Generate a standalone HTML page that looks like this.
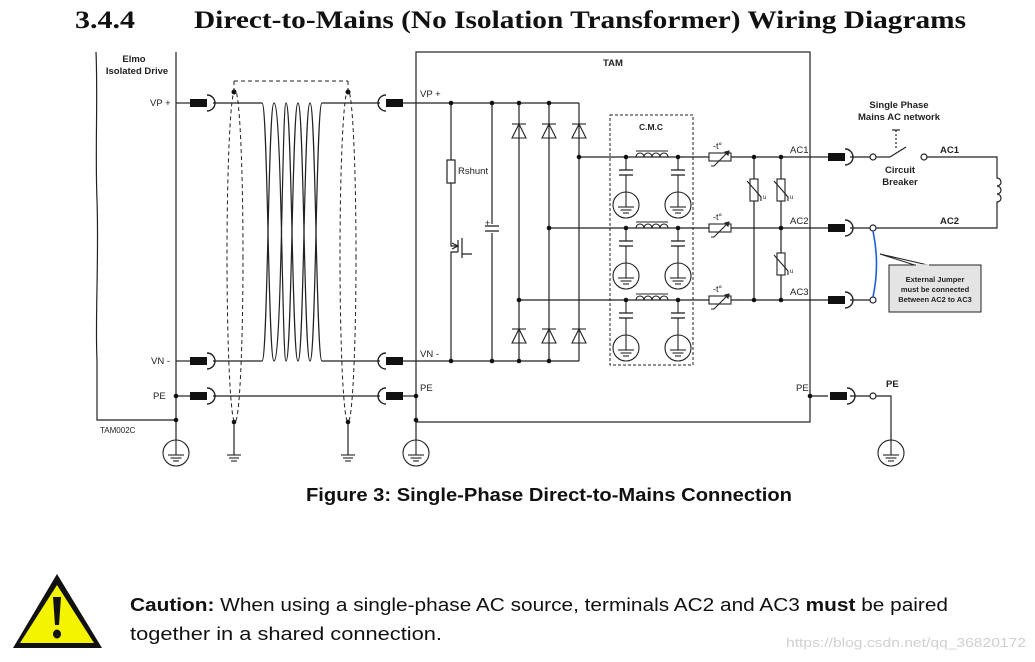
<!DOCTYPE html>
<html><head><meta charset="utf-8"><style>
html,body{margin:0;padding:0;background:#fff;}
svg{display:block;}
</style></head><body>
<svg width="1035" height="662" viewBox="0 0 1035 662" xmlns="http://www.w3.org/2000/svg" font-family="Liberation Sans, Arial, sans-serif">
<defs>
<g id="cR"><rect x="0" y="-4" width="17" height="8" fill="#111"/><path d="M17,-8 A8,8 0 0 1 17,8" fill="none" stroke="#222" stroke-width="1.4"/></g>
<g id="cL"><rect x="-17" y="-4" width="17" height="8" fill="#111"/><path d="M-17,-8 A8,8 0 0 0 -17,8" fill="none" stroke="#222" stroke-width="1.4"/></g>
<g id="eg" fill="none" stroke="#222" stroke-width="1.1"><circle cx="0" cy="0" r="13"/><line x1="0" y1="-13" x2="0" y2="2"/><line x1="-8" y1="2" x2="8" y2="2"/><line x1="-5.5" y1="5" x2="5.5" y2="5"/><line x1="-3" y1="8" x2="3" y2="8"/></g>
<g id="gnd" fill="none" stroke="#222" stroke-width="1.1"><line x1="-7" y1="0" x2="7" y2="0"/><line x1="-5" y1="3" x2="5" y2="3"/><line x1="-3" y1="6" x2="3" y2="6"/></g>
<g id="dU" fill="none" stroke="#222" stroke-width="1.1"><path d="M-7,8 L7,8 L0,-6 Z"/><line x1="-7" y1="-6" x2="7" y2="-6"/></g>
<g id="cap" stroke="#222" stroke-width="1.3"><line x1="-7" y1="0" x2="7" y2="0"/><line x1="-7" y1="5" x2="7" y2="5"/></g>
<g id="therm" fill="none" stroke="#222" stroke-width="1.1"><rect x="0" y="-4" width="22" height="8" fill="#fff"/><path d="M2,9 L5,9 L20,-6"/><path d="M20,-6 l-4,1 l3,3 z" fill="#222"/><text x="4" y="-8" font-size="9" fill="#222" stroke="none">-t°</text></g>
<g id="var" fill="none" stroke="#222" stroke-width="1.1"><rect x="-4" y="-11" width="8" height="22" fill="#fff"/><path d="M-7,-9 L7,7 L7,11"/><text x="9" y="9" font-size="6" fill="#222" stroke="none">u</text></g>
</defs>

<text x="75" y="28" font-family="Liberation Serif, serif" font-weight="bold" font-size="25" fill="#111" textLength="60" lengthAdjust="spacingAndGlyphs">3.4.4</text>
<text x="194" y="28" font-family="Liberation Serif, serif" font-weight="bold" font-size="25" fill="#111" textLength="772" lengthAdjust="spacingAndGlyphs">Direct-to-Mains (No Isolation Transformer) Wiring Diagrams</text>

<g stroke="#222" stroke-width="1.2" fill="none">
<path d="M96,52 C98,100 95,150 97,200 C99,260 95,320 97,360 L97,420 L176,420 L176,52"/>
<line x1="176" y1="103" x2="190" y2="103"/><line x1="176" y1="361" x2="190" y2="361"/><line x1="176" y1="396" x2="190" y2="396"/>
<line x1="176" y1="420" x2="176" y2="440"/>
<line x1="213" y1="103" x2="262" y2="103"/><line x1="322" y1="103" x2="380" y2="103"/>
<line x1="213" y1="361" x2="262" y2="361"/><line x1="322" y1="361" x2="380" y2="361"/>
<line x1="213" y1="396" x2="380" y2="396"/>
<path d="M262,103 C268,103 268,361 274,361 C282,361 282,103 286,103 C292,103 292,361 298,361 C304,361 304,103 310,103 C316,103 316,361 322,361"/>
<path d="M262,361 C268,361 268,103 274,103 C282,103 282,361 286,361 C292,361 292,103 298,103 C304,103 304,361 310,361 C316,361 316,103 322,103"/>
<g stroke-dasharray="4,3" stroke-width="1">
<path d="M234,81 L348,81"/><line x1="234" y1="81" x2="234" y2="92"/><line x1="348" y1="81" x2="348" y2="92"/>
<ellipse cx="235" cy="256" rx="8" ry="166"/><ellipse cx="348" cy="256" rx="8" ry="166"/>
</g>
<line x1="234" y1="422" x2="234" y2="455"/><line x1="348" y1="422" x2="348" y2="455"/>
<line x1="402" y1="103" x2="451" y2="103"/><line x1="402" y1="361" x2="451" y2="361"/><line x1="402" y1="396" x2="416" y2="396"/>
<rect x="416" y="52" width="394" height="370"/>
<line x1="416" y1="422" x2="416" y2="440"/>
<line x1="451" y1="103" x2="579" y2="103"/><line x1="451" y1="361" x2="579" y2="361"/>
<line x1="451" y1="103" x2="451" y2="160"/><rect x="447" y="160" width="8" height="23"/><line x1="451" y1="183" x2="451" y2="238"/>
<path d="M451,238 L451,246 L458,246 M458,240 L458,252 M462,238 L462,258 M458,252 L451,252 L451,361 M462,254 L472,254"/>
<path d="M452,243 l6,3 l-6,3" />
<line x1="492" y1="103" x2="492" y2="224"/><line x1="492" y1="233" x2="492" y2="361"/>
<line x1="519" y1="103" x2="519" y2="361"/><line x1="549" y1="103" x2="549" y2="361"/><line x1="579" y1="103" x2="579" y2="361"/>
<line x1="579" y1="157" x2="709" y2="157"/><line x1="549" y1="228" x2="709" y2="228"/><line x1="519" y1="300" x2="709" y2="300"/>
<line x1="731" y1="157" x2="828" y2="157"/><line x1="731" y1="228" x2="828" y2="228"/><line x1="731" y1="300" x2="828" y2="300"/>
<rect x="610" y="115" width="83" height="250" stroke-dasharray="3,2" stroke-width="1"/>
<line x1="754" y1="157" x2="754" y2="300"/><line x1="781" y1="157" x2="781" y2="300"/>
<line x1="850" y1="157" x2="870" y2="157"/><line x1="850" y1="228" x2="870" y2="228"/><line x1="850" y1="300" x2="870" y2="300"/><line x1="850" y1="396" x2="870" y2="396"/>
<circle cx="873" cy="157" r="3" fill="#fff"/><circle cx="873" cy="228" r="3" fill="#fff"/><circle cx="873" cy="300" r="3" fill="#fff"/><circle cx="873" cy="396" r="3" fill="#fff"/>
<line x1="876" y1="157" x2="890" y2="157"/><line x1="890" y1="157" x2="906" y2="147"/>
<line x1="896" y1="130" x2="896" y2="150" stroke-dasharray="2,2"/><line x1="892" y1="130" x2="900" y2="130"/>
<circle cx="924" cy="157" r="3" fill="#fff"/>
<path d="M927,157 L997,157 L997,178 a4,4 0 0 1 0,8 a4,4 0 0 1 0,8 a4,4 0 0 1 0,8 L997,228 L876,228"/>
<path d="M876,396 L891,396 L891,440"/>
<path d="M873,231 Q880,264 873,297" stroke="#1a5fe0" stroke-width="1.6"/>
<path d="M810,396 L828,396"/>
</g>

<path d="M880,254 L916,265.5 L930,265.5 Z" fill="#fff" stroke="#222" stroke-width="1"/>
<rect x="889" y="265" width="92" height="47" fill="#e4e4e4" stroke="#222" stroke-width="1"/>
<line x1="916" y1="265" x2="929" y2="265" stroke="#e4e4e4" stroke-width="1.5"/>
<g font-size="7.5" font-weight="bold" fill="#222" text-anchor="middle">
<text x="935" y="282">External Jumper</text><text x="935" y="292">must be connected</text><text x="935" y="302">Between  AC2 to AC3</text>
</g>

<use href="#cR" x="190" y="103"/><use href="#cR" x="190" y="361"/><use href="#cR" x="190" y="396"/>
<use href="#cL" x="403" y="103"/><use href="#cL" x="403" y="361"/><use href="#cL" x="403" y="396"/>
<use href="#cR" x="828" y="157"/><use href="#cR" x="828" y="228"/><use href="#cR" x="828" y="300"/><use href="#cR" x="830" y="396"/>

<use href="#dU" x="519" y="130"/><use href="#dU" x="549" y="130"/><use href="#dU" x="579" y="130"/>
<use href="#dU" x="519" y="335"/><use href="#dU" x="549" y="335"/><use href="#dU" x="579" y="335"/>
<use href="#cap" x="492" y="226"/><text x="485" y="226" font-size="9" fill="#222">+</text>

<g stroke="#222" stroke-width="1.1" fill="none">
<g id="cmcrow">
<path d="M636,157 a4,4 0 0 1 8,0 a4,4 0 0 1 8,0 a4,4 0 0 1 8,0 a4,4 0 0 1 8,0"/>
<line x1="636" y1="151" x2="668" y2="151"/>
<line x1="626" y1="157" x2="626" y2="170"/><line x1="626" y1="175" x2="626" y2="192"/>
<line x1="678" y1="157" x2="678" y2="170"/><line x1="678" y1="175" x2="678" y2="192"/>
</g>
<use href="#cmcrow" y="71"/><use href="#cmcrow" y="143"/>
</g>
<g>
<use href="#cap" x="626" y="170"/><use href="#cap" x="678" y="170"/>
<use href="#cap" x="626" y="241"/><use href="#cap" x="678" y="241"/>
<use href="#cap" x="626" y="313"/><use href="#cap" x="678" y="313"/>
<use href="#eg" x="626" y="205"/><use href="#eg" x="678" y="205"/>
<use href="#eg" x="626" y="276"/><use href="#eg" x="678" y="276"/>
<use href="#eg" x="626" y="348"/><use href="#eg" x="678" y="348"/>
</g>
<text x="651" y="130" font-size="8.5" font-weight="bold" fill="#222" text-anchor="middle">C.M.C</text>

<use href="#therm" x="709" y="157"/><use href="#therm" x="709" y="228"/><use href="#therm" x="709" y="300"/>
<use href="#var" x="754" y="190"/><use href="#var" x="781" y="190"/><use href="#var" x="781" y="264"/>

<use href="#eg" x="176" y="453"/><use href="#eg" x="416" y="453"/><use href="#eg" x="891" y="453"/>
<use href="#gnd" x="234" y="455"/><use href="#gnd" x="348" y="455"/>

<g fill="#111">
<circle cx="176" cy="396" r="2.3"/><circle cx="176" cy="420" r="2.3"/>
<circle cx="234" cy="92" r="2.5"/><circle cx="348" cy="92" r="2.5"/><circle cx="234" cy="422" r="2.3"/><circle cx="348" cy="422" r="2.3"/>
<circle cx="416" cy="396" r="2.3"/><circle cx="416" cy="420" r="2.3"/><circle cx="810" cy="396" r="2.3"/>
<circle cx="451" cy="103" r="2.3"/><circle cx="492" cy="103" r="2.3"/><circle cx="519" cy="103" r="2.3"/><circle cx="549" cy="103" r="2.3"/>
<circle cx="451" cy="361" r="2.3"/><circle cx="492" cy="361" r="2.3"/><circle cx="519" cy="361" r="2.3"/><circle cx="549" cy="361" r="2.3"/>
<circle cx="579" cy="157" r="2.3"/><circle cx="549" cy="228" r="2.3"/><circle cx="519" cy="300" r="2.3"/>
<circle cx="626" cy="157" r="2.3"/><circle cx="678" cy="157" r="2.3"/><circle cx="626" cy="228" r="2.3"/><circle cx="678" cy="228" r="2.3"/><circle cx="626" cy="300" r="2.3"/><circle cx="678" cy="300" r="2.3"/>
<circle cx="754" cy="157" r="2.3"/><circle cx="781" cy="157" r="2.3"/><circle cx="781" cy="228" r="2.3"/><circle cx="754" cy="300" r="2.3"/><circle cx="781" cy="300" r="2.3"/>
</g>

<g font-size="9.5" fill="#222">
<text x="134" y="62" font-weight="bold" text-anchor="middle">Elmo</text>
<text x="137" y="74" font-weight="bold" text-anchor="middle">Isolated Drive</text>
<text x="150" y="106">VP +</text><text x="151" y="364">VN -</text><text x="153" y="399">PE</text>
<text x="100" y="433" font-size="8">TAM002C</text>
<text x="603" y="66" font-weight="bold">TAM</text>
<text x="420" y="97">VP +</text><text x="420" y="357">VN -</text><text x="420" y="391">PE</text>
<text x="458" y="174">Rshunt</text>
<text x="790" y="153">AC1</text><text x="790" y="224">AC2</text><text x="790" y="295">AC3</text><text x="796" y="391">PE</text>
<g font-weight="bold">
<text x="899" y="108" text-anchor="middle">Single Phase</text>
<text x="899" y="120" text-anchor="middle">Mains AC network</text>
<text x="900" y="173" text-anchor="middle">Circuit</text>
<text x="900" y="185" text-anchor="middle">Breaker</text>
<text x="940" y="153">AC1</text><text x="940" y="224">AC2</text><text x="886" y="387">PE</text>
</g>
</g>

<text x="549" y="501" font-size="18" font-weight="bold" fill="#111" text-anchor="middle" textLength="486" lengthAdjust="spacingAndGlyphs">Figure 3: Single-Phase Direct-to-Mains Connection</text>

<path d="M57,574 L102,648 L13,648 Z" fill="#111"/>
<path d="M57,585 L94,643 L20,643 Z" fill="#f4f400"/>
<path d="M53,597 L61,597 L59,625 L55,625 Z" fill="#111"/>
<ellipse cx="57" cy="634" rx="4" ry="4.5" fill="#111"/>
<text x="130" y="611" font-size="18" fill="#111" textLength="818" lengthAdjust="spacingAndGlyphs"><tspan font-weight="bold">Caution:</tspan> When using a single-phase AC source, terminals AC2 and AC3 <tspan font-weight="bold">must</tspan> be paired</text>
<text x="130" y="640" font-size="18" fill="#111" textLength="312" lengthAdjust="spacingAndGlyphs">together in a shared connection.</text>
<text x="786" y="647" font-size="13" fill="#d0d0d0" textLength="240" lengthAdjust="spacingAndGlyphs">https://blog.csdn.net/qq_36820172</text>
</svg>
</body></html>
